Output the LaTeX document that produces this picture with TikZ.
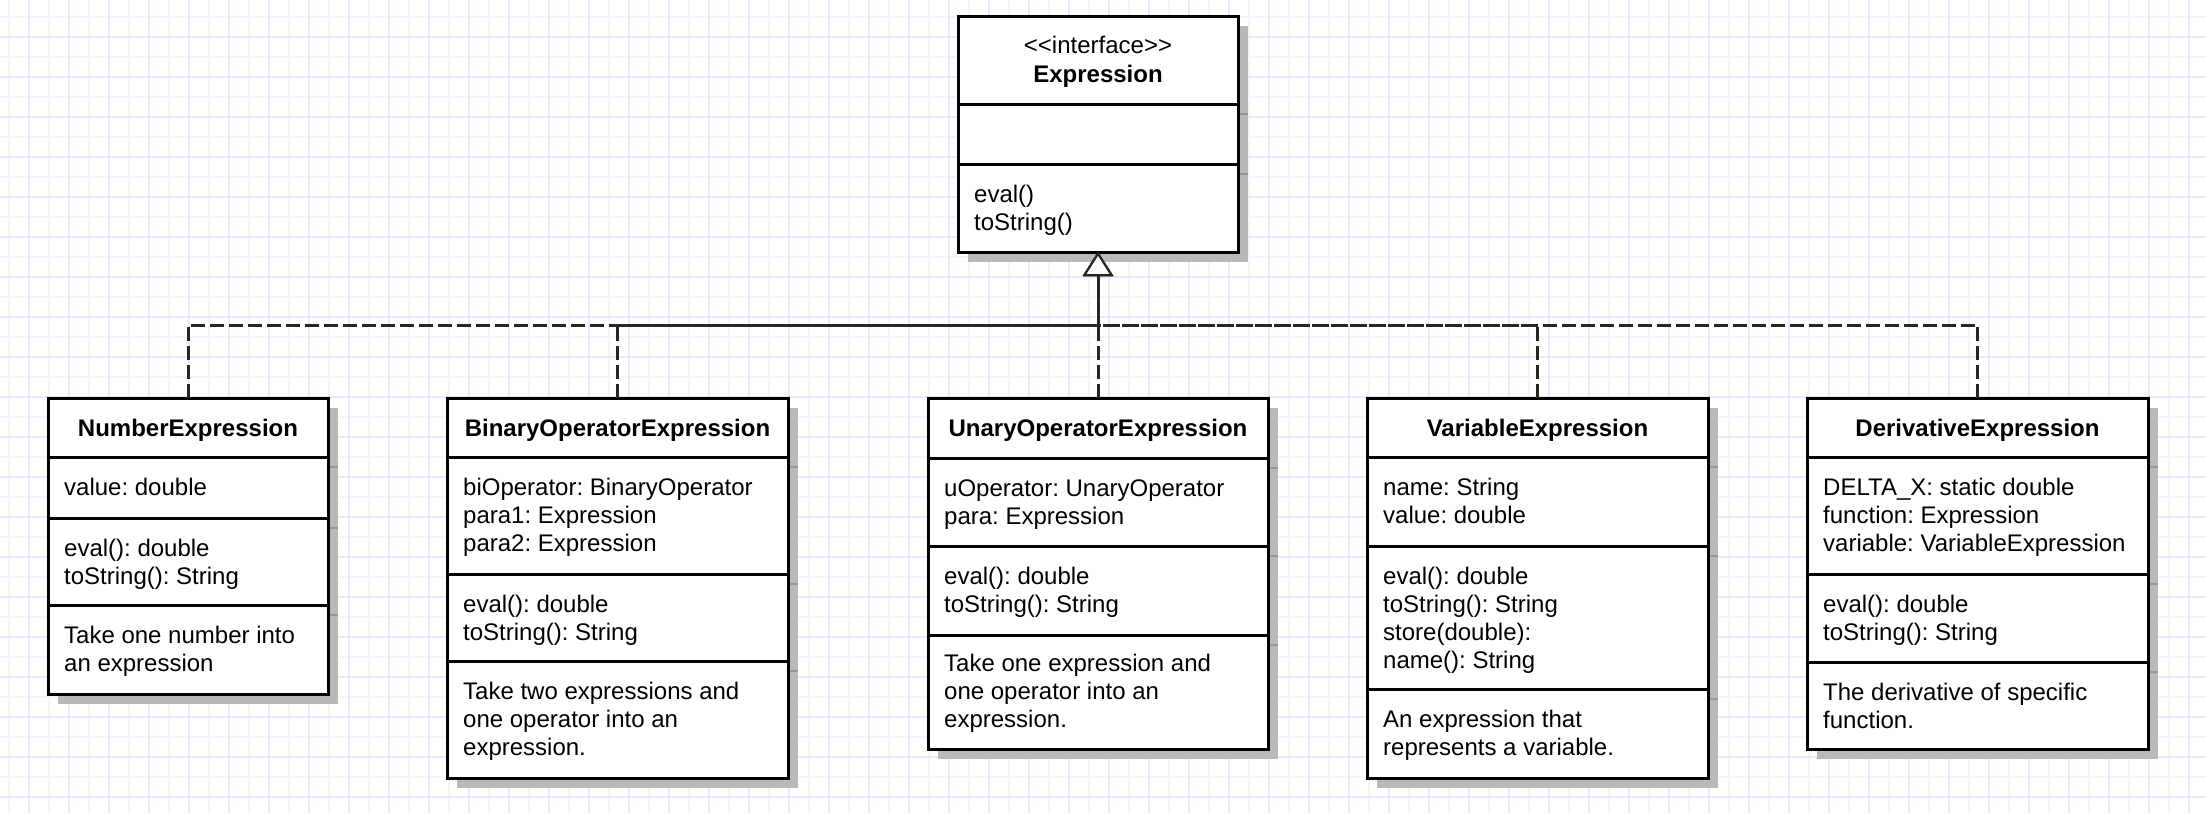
\documentclass[tikz,border=0pt]{standalone}
\usepackage{fontspec}
\setmainfont{Liberation Sans}
\frenchspacing
\usetikzlibrary{arrows.meta,shadows}
\definecolor{gridmaj}{RGB}{232,232,255}
\definecolor{gridmin}{RGB}{244,244,255}
\definecolor{shadowgray}{RGB}{185,185,185}
\definecolor{tickgray}{RGB}{150,150,150}
\tikzset{
  classbox/.style={draw=black, line width=3pt, fill=white, inner sep=0pt, outer sep=0pt,
    anchor=north west, rectangle,
    drop shadow={shadow xshift=10pt, shadow yshift=-10pt, fill=shadowgray, opacity=1}},
  sepline/.style={draw=black, line width=3pt},
  ttl/.style={font=\fontsize{24}{28}\selectfont\bfseries, anchor=base, inner sep=0pt},
  stereo/.style={font=\fontsize{24}{28}\selectfont, anchor=base, inner sep=0pt},
  txt/.style={font=\fontsize{24}{28}\selectfont, anchor=north west, inner sep=0pt, align=left},
  realize/.style={draw=black!85, line width=3pt, dash pattern=on 14pt off 5pt,
    -{Triangle[length=24pt, width=30pt, fill=white, line width=2pt]}},
  gridminor/.style={draw=gridmin, line width=1.5pt},
  gridmajor/.style={draw=gridmaj, line width=1.5pt},
}
\newcommand{\umlsepline}[3]{%
  \draw[sepline] (#1,#3) -- (#2,#3);
  \draw[tickgray, line width=1.5pt] ({#2+1.5},{#3+10}) -- ({#2+10},{#3+10});
}
\begin{document}
\begin{tikzpicture}[x=1pt,y=-1pt]
\useasboundingbox (0,0) rectangle (2206,814);
\fill[white] (0,0) rectangle (2206,814);
% grid
\foreach \k in {0,...,54} {
  \draw[gridminor] ({9+40*\k},0) -- ({9+40*\k},814);
}
\foreach \k in {0,...,19} {
  \draw[gridminor] (0,{17+40*\k}) -- (2206,{17+40*\k});
}
\foreach \k in {0,...,54} {
  \draw[gridmajor] ({29+40*\k},0) -- ({29+40*\k},814);
}
\foreach \k in {0,...,19} {
  \draw[gridmajor] (0,{37+40*\k}) -- (2206,{37+40*\k});
}

% Interface Expression
\node[classbox, minimum width=280pt, minimum height=236pt] (ifc) at (958,16) {};
\node[stereo] (ifc-st) at (1098,53) {<{}<interface>{}>};
\node[ttl] (ifc-t) at (1098,82) {Expression};
\umlsepline{958}{1238}{104}
\umlsepline{958}{1238}{164}
\node[txt] (ifc-m) at (974,182) {\rule{0pt}{20pt}eval()\\toString()};

% NumberExpression
\node[classbox, minimum width=280pt, minimum height=296pt] (num) at (48,398) {};
\node[ttl] (num-t) at (188,436) {NumberExpression};
\umlsepline{48}{328}{457}
\umlsepline{48}{328}{518}
\umlsepline{48}{328}{605}
\node[txt] (num-a) at (64,475) {\rule{0pt}{20pt}value: double};
\node[txt] (num-m) at (64,536) {\rule{0pt}{20pt}eval(): double\\toString(): String};
\node[txt] (num-n) at (64,623) {\rule{0pt}{20pt}Take one number into\\an expression};

% BinaryOperatorExpression
\node[classbox, minimum width=341pt, minimum height=380pt] (bin) at (447,398) {};
\node[ttl] (bin-t) at (617.5,436) {BinaryOperatorExpression};
\umlsepline{447}{788}{457}
\umlsepline{447}{788}{574}
\umlsepline{447}{788}{661}
\node[txt] (bin-a) at (463,475) {\rule{0pt}{20pt}biOperator: BinaryOperator\\para1: Expression\\para2: Expression};
\node[txt] (bin-m) at (463,592) {\rule{0pt}{20pt}eval(): double\\toString(): String};
\node[txt] (bin-n) at (463,679) {\rule{0pt}{20pt}Take two expressions and\\one operator into an\\expression.};

% UnaryOperatorExpression
\node[classbox, minimum width=340pt, minimum height=351pt] (un) at (928,398) {};
\node[ttl] (un-t) at (1098,436) {UnaryOperatorExpression};
\umlsepline{928}{1268}{458}
\umlsepline{928}{1268}{546}
\umlsepline{928}{1268}{635}
\node[txt] (un-a) at (944,476) {\rule{0pt}{20pt}uOperator: UnaryOperator\\para: Expression};
\node[txt] (un-m) at (944,564) {\rule{0pt}{20pt}eval(): double\\toString(): String};
\node[txt] (un-n) at (944,651) {\rule{0pt}{20pt}Take one expression and\\one operator into an\\expression.};

% VariableExpression
\node[classbox, minimum width=341pt, minimum height=380pt] (var) at (1367,398) {};
\node[ttl] (var-t) at (1537.5,436) {VariableExpression};
\umlsepline{1367}{1708}{457}
\umlsepline{1367}{1708}{546}
\umlsepline{1367}{1708}{689}
\node[txt] (var-a) at (1383,475) {\rule{0pt}{20pt}name: String\\value: double};
\node[txt] (var-m) at (1383,564) {\rule{0pt}{20pt}eval(): double\\toString(): String\\store(double):\\name(): String};
\node[txt] (var-n) at (1383,707) {\rule{0pt}{20pt}An expression that\\represents a variable.};

% DerivativeExpression
\node[classbox, minimum width=341pt, minimum height=351pt] (der) at (1807,398) {};
\node[ttl] (der-t) at (1977.5,436) {DerivativeExpression};
\umlsepline{1807}{2148}{457}
\umlsepline{1807}{2148}{574}
\umlsepline{1807}{2148}{662}
\node[txt] (der-a) at (1823,475) {\rule{0pt}{20pt}DELTA\_X: static double\\function: Expression\\variable: VariableExpression};
\node[txt] (der-m) at (1823,592) {\rule{0pt}{20pt}eval(): double\\toString(): String};
\node[txt] (der-n) at (1823,680) {\rule{0pt}{20pt}The derivative of specific\\function.};

% realization connectors
\coordinate (junc) at (1098,325);
\draw[realize] (num.north) |- (junc) -- (ifc.south);
\draw[realize] (bin.north) |- (junc) -- (ifc.south);
\draw[realize] (var.north) |- (junc) -- (ifc.south);
\draw[realize] (der.north) |- (junc) -- (ifc.south);
\draw[realize] (un.north) -- (ifc.south);
\end{tikzpicture}
\end{document}
